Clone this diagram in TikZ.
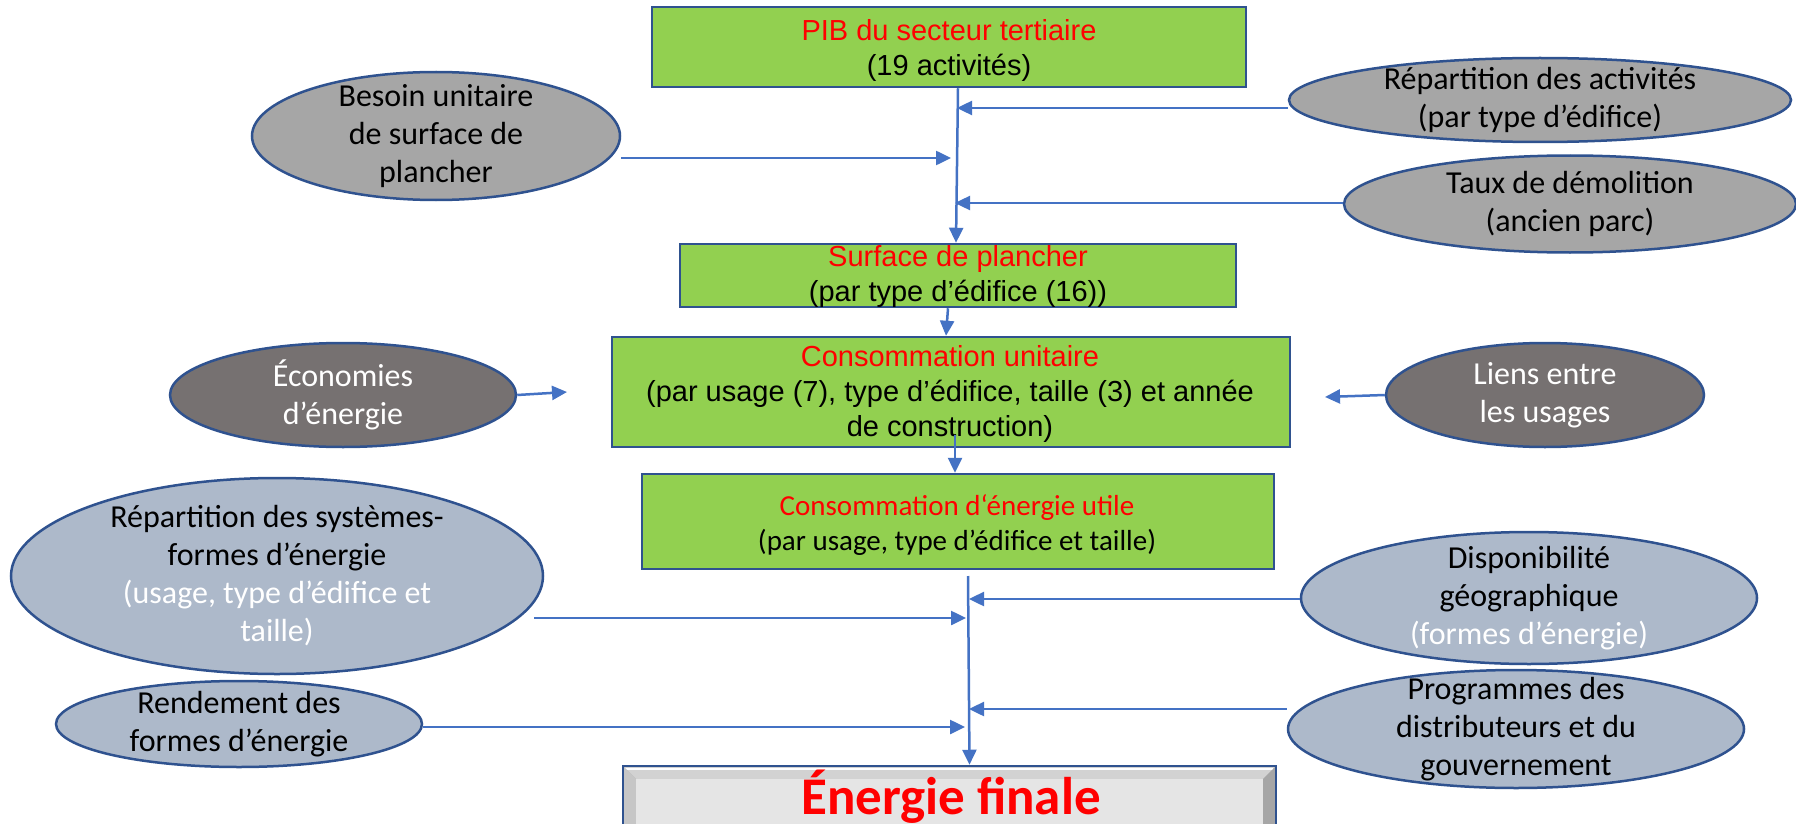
\documentclass[tikz,border=0pt]{standalone}
\usepackage{fontspec}
\setmainfont{Liberation Sans}
\newfontfamily\carl{Carlito}
\usetikzlibrary{arrows.meta,shapes.geometric}
\definecolor{boxgreen}{HTML}{92D050}
\definecolor{navy}{HTML}{2F528F}
\definecolor{conn}{HTML}{4472C4}
\definecolor{ellgray}{HTML}{A6A6A6}
\definecolor{elldark}{HTML}{767171}
\definecolor{ellblue}{HTML}{ADB9CA}
\definecolor{pptred}{HTML}{FF0000}
\begin{document}
\begin{tikzpicture}[x=1pt,y=-1pt,
  gbox/.style={draw=navy, line width=2.5pt, fill=boxgreen, rectangle, inner sep=0pt},
  ell/.style={draw=navy, line width=2.5pt, ellipse, inner sep=0pt},
  btxt/.style={align=center, font=\fontsize{29}{35}\selectfont, inner sep=0pt},
  ctxt/.style={align=center, font=\carl\fontsize{29}{35}\selectfont, inner sep=0pt},
  etxt/.style={align=center, font=\carl\fontsize{32}{38}\selectfont, inner sep=0pt},
  arr/.style={draw=conn, line width=2.5pt, -{Triangle[length=15pt,width=14pt]}},
]
\clip (0,0) rectangle (1796,824);
\fill[white] (0,0) rectangle (1796,824);

% ---- green boxes
\node[gbox, minimum width=594pt, minimum height=80pt] (pib) at (949,47) {};
\node[btxt] (pibt) at (949,50) {\textcolor{pptred}{PIB du secteur tertiaire}\\(19 activités)};
\node[gbox, minimum width=556pt, minimum height=63pt] (surf) at (958,275.5) {};
\node[btxt] (surft) at (958,277) {\textcolor{pptred}{Surface de plancher}\\(par type d’édifice (16))};
\node[gbox, minimum width=678pt, minimum height=110pt] (cu) at (951,392) {};
\node[btxt] (cut) at (950,394) {\textcolor{pptred}{Consommation unitaire}\\(par usage (7), type d’édifice, taille (3) et année\\de construction)};
\node[gbox, minimum width=632pt, minimum height=95pt] (util) at (958,521.5) {};
\node[ctxt] (utilt) at (957,525) {\textcolor{pptred}{Consommation d‘énergie utile}\\(par usage, type d’édifice et taille)};

% ---- final box with bevel
\node[draw=navy, line width=2.5pt, fill=gray!60, minimum width=653pt, minimum height=84pt, inner sep=0pt] (ef) at (949.5,808) {};
\fill[gray!35] (624,767) -- (1275,767) -- (1263,779) -- (636,779) -- cycle;
\draw[white, line width=1.5pt] (625,769) -- (1273,769);
\fill[gray!45] (624,767) -- (636,779) -- (636,850) -- (624,850) -- cycle;
\fill[gray!70] (1275,767) -- (1263,779) -- (1263,850) -- (1275,850) -- cycle;
\fill[gray!20] (636,779) rectangle (1263,850);
\draw[navy, line width=2.5pt] (623,850) -- (623,766) -- (1276,766) -- (1276,850);
\node[font=\carl\bfseries\fontsize{53}{60}\selectfont, text=pptred, anchor=base, inner sep=0pt] (eft) at (951,814) {Énergie finale};

% ---- ellipses
\node[ell, fill=ellgray, minimum width=368pt, minimum height=128pt] (besoin) at (436,136) {};
\node[etxt] (besoint) at (besoin) {Besoin unitaire\\de surface de\\plancher};
\node[ell, fill=ellgray, minimum width=502pt, minimum height=84pt] (repact) at (1540,100) {};
\node[etxt] (repactt) at (repact) {Répartition des activités\\(par type d’édifice)};
\node[ell, fill=ellgray, minimum width=452pt, minimum height=97pt] (taux) at (1570,204) {};
\node[etxt] (tauxt) at (taux) {Taux de démolition\\(ancien parc)};
\node[ell, fill=elldark, minimum width=346pt, minimum height=104pt] (econ) at (343,395) {};
\node[etxt, text=white] (econt) at (econ) {Économies\\d’énergie};
\node[ell, fill=elldark, minimum width=318pt, minimum height=104pt] (liens) at (1545,395) {};
\node[etxt, text=white] (lienst) at (liens) {Liens entre\\les usages};
\node[ell, fill=ellblue, minimum width=532pt, minimum height=196pt] (repsys) at (277,576) {};
\node[etxt] (repsyst) at (repsys) {Répartition des systèmes-\\formes d’énergie\\\textcolor{white}{(usage, type d’édifice et}\\\textcolor{white}{taille)}};
\node[ell, fill=ellblue, minimum width=366pt, minimum height=86pt] (rend) at (239,724) {};
\node[etxt] (rendt) at (rend) {Rendement des\\formes d’énergie};
\node[ell, fill=ellblue, minimum width=456pt, minimum height=132pt] (dispo) at (1529,598) {};
\node[etxt] (dispot) at (dispo) {Disponibilité\\géographique\\\textcolor{white}{(formes d’énergie)}};
\node[ell, fill=ellblue, minimum width=456pt, minimum height=118pt] (prog) at (1516,729) {};
\node[etxt] (progt) at (prog) {Programmes des\\distributeurs et du\\gouvernement};

% ---- connector end points
\coordinate (tA) at (957,108);
\coordinate (tB) at (951,158);
\coordinate (tC) at (955,203);
\coordinate (tE) at (567,392);
\coordinate (tL) at (1325,397);
\coordinate (cuOut) at (955,435);
\coordinate (t2) at (968,576);
\coordinate (tD) at (969,599);
\coordinate (tR) at (966,618);
\coordinate (tP) at (969,709);
\coordinate (tN) at (965,727);

% ---- connectors
\draw[arr] ([xshift=9pt]pib.south) -- ([xshift=-2pt]surf.north);
\draw[arr] (repact.west |- tA) -- (tA);
\draw[arr] (besoin.east |- tB) -- (tB);
\draw[arr] (taux.west |- tC) -- (tC);
\draw[arr] ([xshift=-10pt]surf.south) -- ([xshift=-5pt]cu.north);
\draw[arr] (econ.east) -- (tE);
\draw[arr] (liens.west) -- (tL);
\draw[arr] (cuOut) -- (cuOut |- util.north);
\draw[arr] (t2) -- ([xshift=20pt]ef.north);
\draw[arr] (dispo.west |- tD) -- (tD);
\draw[arr] ([xshift=-10pt]repsys.east |- tR) -- (tR);
\draw[arr] (prog.west |- tP) -- (tP);
\draw[arr] (rend.east |- tN) -- (tN);
\end{tikzpicture}
\end{document}
